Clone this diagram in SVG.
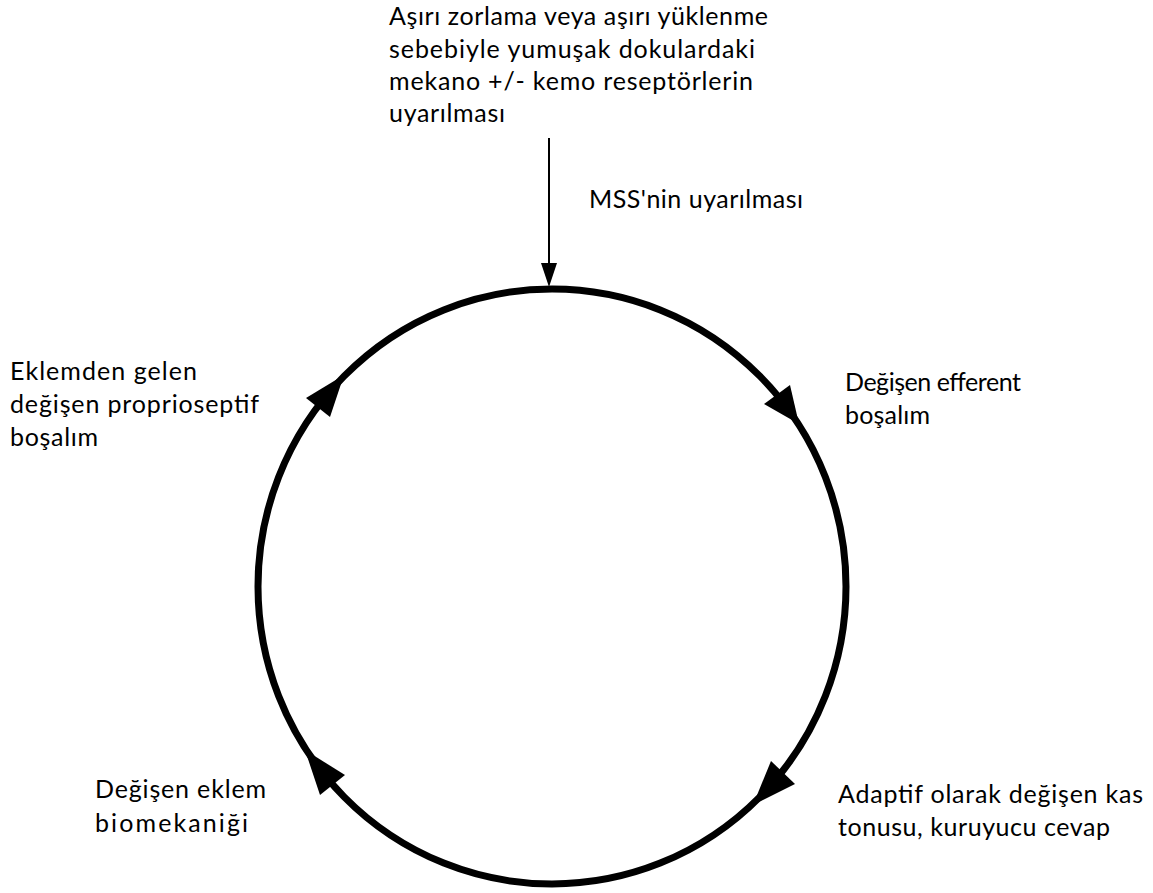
<svg xmlns="http://www.w3.org/2000/svg" width="1153" height="893" viewBox="0 0 1153 893">
<style>
  text { font-family: Lato, "Open Sans", "Liberation Sans", sans-serif; font-size: 25px; fill: #000; }
  .ring { fill: none; stroke: #000; stroke-width: 7; }
  .line { fill: none; stroke: #000; stroke-width: 2; }
  .head { fill: #000; stroke: none; }
</style>
<rect width="1153" height="893" fill="#fff"/>
<g id="connectors">
  <ellipse class="ring" cx="552" cy="586.5" rx="294" ry="297.5"/>
  <line class="line" x1="549" y1="138" x2="549" y2="266"/>
  <polygon class="head" points="541,263 557,263 549,287"/>
  <polygon class="head" points="764,404 790,385 799,424"/>
  <polygon class="head" points="771,761 795,784 753,805"/>
  <polygon class="head" points="320,795 345,775 305,750"/>
  <polygon class="head" points="306,398 330,417 344,375"/>
</g>
<g id="node-top">
  <text x="389" y="25" textLength="379">Aşırı zorlama veya aşırı yüklenme</text>
  <text x="389" y="58" textLength="366">sebebiyle yumuşak dokulardaki</text>
  <text x="389" y="90" textLength="364">mekano +/- kemo reseptörlerin</text>
  <text x="389" y="122" textLength="116">uyarılması</text>
</g>
<g id="node-mss">
  <text x="589" y="208" textLength="214">MSS'nin uyarılması</text>
</g>
<g id="node-efferent">
  <text x="845" y="391" textLength="176">Değişen efferent</text>
  <text x="845" y="424" textLength="85">boşalım</text>
</g>
<g id="node-kas">
  <text x="838" y="803" textLength="305">Adaptif olarak değişen kas</text>
  <text x="838" y="836" textLength="272">tonusu, kuruyucu cevap</text>
</g>
<g id="node-biomekanik">
  <text x="95" y="798" textLength="171">Değişen eklem</text>
  <text x="95" y="832" textLength="153">biomekaniği</text>
</g>
<g id="node-proprioseptif">
  <text x="10" y="380" textLength="187">Eklemden gelen</text>
  <text x="10" y="413" textLength="249">değişen proprioseptif</text>
  <text x="10" y="446" textLength="88">boşalım</text>
</g>
</svg>
